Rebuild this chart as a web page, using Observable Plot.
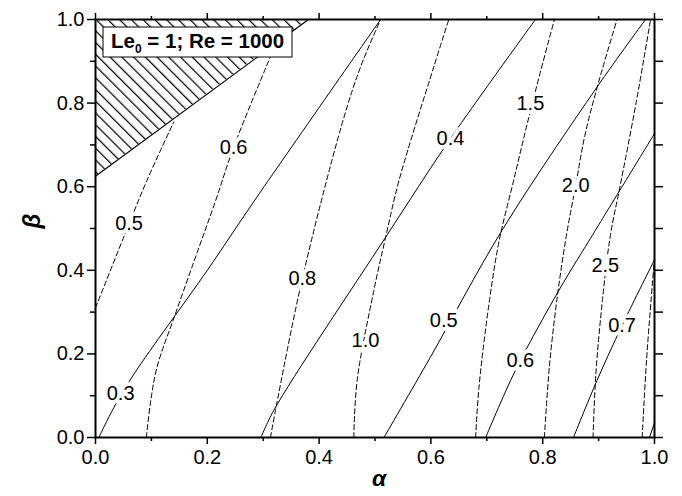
<!DOCTYPE html>
<html><head><meta charset="utf-8">
<script src="https://cdn.jsdelivr.net/npm/d3@7"></script>
<script src="https://cdn.jsdelivr.net/npm/@observablehq/plot@0.6"></script>
<style>body{margin:0;background:#fff}</style>
</head><body><div id="chart"></div>
<script>
// ---- data ----
const xTicks = [0, 0.2, 0.4, 0.6, 0.8, 1.0];
const yTicks = [0, 0.2, 0.4, 0.6, 0.8, 1.0];
const minorTicks = [0.1, 0.3, 0.5, 0.7, 0.9];

// solid contour lines
const solid03 = [[0.006,0],[0.033,0.072],[0.069,0.152],[0.2,0.4],[0.283,0.564],[0.51,1.0]];
const solid04 = [[0.296,0],[0.319,0.065],[0.519,0.479],[0.635,0.715],[0.787,1.0]];
const solid05 = [[0.516,0],[0.599,0.192],[0.727,0.495],[0.897,0.838],[0.984,1.0]];
const solid06 = [[0.698,0],[0.751,0.16],[0.829,0.352],[0.894,0.495],[1.0,0.727]];
const solid07 = [[0.855,0],[0.897,0.136],[0.942,0.268],[1.0,0.425]];
const solid08 = [[0.991,0],[1.0,0.035]];

// dashed contour lines
const dash05 = [[0,0.31],[0.06,0.511],[0.092,0.615],[0.14,0.755]];
const dash06 = [[0.091,0],[0.098,0.08],[0.110,0.168],[0.143,0.296],[0.182,0.443],[0.215,0.567],[0.247,0.694],[0.31,0.902],[0.322,0.942]];
const dash08 = [[0.313,0],[0.322,0.065],[0.37,0.38],[0.441,0.75],[0.474,0.886],[0.51,1.0]];
const dash10 = [[0.462,0],[0.468,0.136],[0.498,0.352],[0.519,0.479],[0.543,0.615],[0.605,0.886],[0.632,1.0]];
const dash15 = [[0.68,0],[0.686,0.12],[0.705,0.33],[0.722,0.47],[0.748,0.615],[0.775,0.765],[0.795,0.87],[0.821,1.0]];
const dash20 = [[0.803,0],[0.812,0.17],[0.826,0.336],[0.842,0.48],[0.859,0.603],[0.876,0.726],[0.9,0.85],[0.933,1.0]];
const dash25 = [[0.89,0],[0.895,0.15],[0.907,0.33],[0.921,0.483],[0.939,0.605],[0.967,0.8],[0.993,1.0]];
const dash30 = [[0.978,0],[0.986,0.19],[1.0,0.43]];

// labels on the contours
const solidLabelText = ["0.3","0.4","0.5","0.6","0.7"];
const solidLabelX = [0.045, 0.635, 0.623, 0.760, 0.942];
const solidLabelY = [0.105, 0.715, 0.28, 0.184, 0.268];
const dashLabelText = ["0.5","0.6","0.8","1.0","1.5","2.0","2.5"];
const dashLabelX = [0.06, 0.247, 0.37, 0.483, 0.778, 0.859, 0.912];
const dashLabelY = [0.511, 0.694, 0.38, 0.232, 0.798, 0.603, 0.411];

// hatched (excluded) region
const hatchX = [0, 0.381];
const hatchLower = [0.625, 1.0];
const hatchUpper = [1.0, 1.0];

// ---- build tables ----
const toRows = (lines) => lines.flatMap((pts, i) => pts.map(([x, y]) => ({x, y, id: i})));
const solidRows = toRows([solid03, solid04, solid05, solid06, solid07, solid08]);
const dashRows = toRows([dash05, dash06, dash08, dash10, dash15, dash20, dash25, dash30]);
const labels = [
  ...solidLabelText.map((t, i) => ({x: solidLabelX[i], y: solidLabelY[i], t})),
  ...dashLabelText.map((t, i) => ({x: dashLabelX[i], y: dashLabelY[i], t}))
];
const hatchRows = hatchX.map((x, i) => ({x, y1: hatchLower[i], y2: hatchUpper[i]}));

const fmt = d3.format(".1f");
const blank = () => "";

const chart = Plot.plot({
  width: 682, height: 496,
  marginLeft: 95, marginRight: 28, marginTop: 19, marginBottom: 59,
  x: {domain: [0, 1]},
  y: {domain: [0, 1]},
  style: {fontFamily: "'Liberation Sans', Arial, sans-serif", fontSize: "20px", color: "black", background: "white"},
  marks: [
    Plot.areaY(hatchRows, {x: "x", y1: "y1", y2: "y2", fill: "url(#hatch)"}),
    Plot.line(hatchRows, {x: "x", y: "y1", stroke: "black", strokeWidth: 1.2}),
    Plot.line(solidRows, {x: "x", y: "y", z: "id", stroke: "black", strokeWidth: 1, curve: "catmull-rom"}),
    Plot.line(dashRows, {x: "x", y: "y", z: "id", stroke: "black", strokeWidth: 1, strokeDasharray: "5,3", curve: "catmull-rom"}),
    Plot.text(labels, {x: "x", y: "y", text: "t", fontSize: 20, fill: "black", stroke: "white", strokeWidth: 8, paintOrder: "stroke"}),
    Plot.axisX(xTicks, {tickSize: 7, tickPadding: 5, tickFormat: fmt, fontSize: 20, strokeWidth: 1.5, label: null}),
    Plot.axisX(minorTicks, {tickSize: 4, tickFormat: blank, strokeWidth: 1.5, label: null}),
    Plot.axisX(xTicks, {anchor: "top", tickSize: 7, tickFormat: blank, strokeWidth: 1.5, label: null}),
    Plot.axisX(minorTicks, {anchor: "top", tickSize: 4, tickFormat: blank, strokeWidth: 1.5, label: null}),
    Plot.axisY(yTicks, {tickSize: 8, tickPadding: 3, tickFormat: fmt, fontSize: 20, strokeWidth: 1.5, label: null}),
    Plot.axisY(minorTicks, {tickSize: 5, tickFormat: blank, strokeWidth: 1.5, label: null}),
    Plot.axisY(yTicks, {anchor: "right", tickSize: 8, tickFormat: blank, strokeWidth: 1.5, label: null}),
    Plot.axisY(minorTicks, {anchor: "right", tickSize: 8, tickFormat: blank, strokeWidth: 1.5, label: null}),
    Plot.frame({stroke: "black", strokeWidth: 2}),
    Plot.text(["α"], {text: d => d, frameAnchor: "bottom", dy: 48, dx: 4, fontSize: 23, fontWeight: "bold", fontStyle: "italic"}),
    Plot.text(["β"], {text: d => d, frameAnchor: "left", dx: -63, rotate: -90, fontSize: 24, fontWeight: "bold", fontStyle: "italic"})
  ]
});

const svg = d3.select(chart.tagName.toLowerCase() === "svg" ? chart : chart.querySelector("svg"));
const defs = svg.insert("defs", ":first-child");
const pat = defs.append("pattern").attr("id", "hatch").attr("patternUnits", "userSpaceOnUse")
  .attr("width", 8).attr("height", 8.3).attr("patternTransform", "rotate(45)");
pat.append("line").attr("x1", -1).attr("y1", 4).attr("x2", 9).attr("y2", 4)
  .attr("stroke", "black").attr("stroke-width", 1.2);

// legend box inside the plot
const g = svg.append("g");
g.append("rect").attr("x", 103).attr("y", 27).attr("width", 189).attr("height", 30)
  .attr("fill", "white").attr("stroke", "black").attr("stroke-width", 1);
const t = g.append("text").attr("x", 111).attr("y", 48).attr("text-anchor", "start").attr("font-weight", "bold")
  .attr("font-size", 20.5).attr("font-family", "'Liberation Sans', Arial, sans-serif").attr("fill", "black");
t.append("tspan").text("Le");
t.append("tspan").attr("font-size", 12).attr("dy", 5).text("0");
t.append("tspan").attr("dy", -5).text(" = 1; Re = 1000");

document.getElementById("chart").appendChild(chart);
</script>
</body></html>
